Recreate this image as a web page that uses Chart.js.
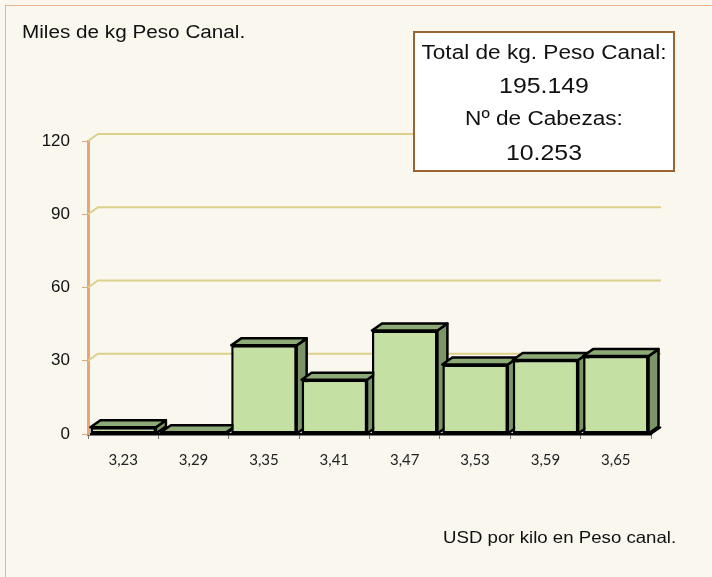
<!DOCTYPE html>
<html>
<head>
<meta charset="utf-8">
<script src="https://cdn.jsdelivr.net/npm/chart.js"></script>
<style>
  body { margin: 0; background: #f9f7ee; }
  #wrap { position: relative; width: 712px; height: 577px; overflow: hidden; background: #f9f7ee; }
  #frame { position: absolute; left: 5px; top: 5px; width: 800px; height: 700px; border: 1px solid #e6b58a; }
  canvas { position: absolute; left: 0; top: 0; }
  .txt { position: absolute; font-family: "Liberation Sans", Arial, sans-serif; color: #111; white-space: nowrap; }
  #title-y { left: 22px; top: 22px; font-size: 18px; transform: scaleX(1.15); transform-origin: left top; }
  #title-x { left: 443px; top: 528px; font-size: 16.5px; transform: scaleX(1.13); transform-origin: left top; }
  #infobox { position: absolute; left: 413px; top: 31px; width: 258px; height: 137px; background: #fff; border: 2px solid #9a6535; }
  #infobox .line { position: absolute; left: 0; width: 100%; text-align: center; transform: scaleX(1.13); font-family: "Liberation Sans", Arial, sans-serif; color: #111; white-space: nowrap; }
</style>
</head>
<body>
<div id="wrap">
  <div id="frame"></div>
  <canvas id="myChart" width="712" height="577"></canvas>
  <div class="txt" id="title-y"></div>
  <div class="txt" id="title-x"></div>
  <div id="infobox">
    <div class="line" id="box-l1" style="top:8px;font-size:20px"></div>
    <div class="line" id="box-l2" style="top:40px;font-size:22px"></div>
    <div class="line" id="box-l3" style="top:74px;font-size:20px"></div>
    <div class="line" id="box-l4" style="top:107px;font-size:22px"></div>
  </div>
</div>
<script>
// precio (USD/kg) y miles de kg en peso canal
const categories = ['3,23', '3,29', '3,35', '3,41', '3,47', '3,53', '3,59', '3,65'];
const pesoCanal = [2.8, 0.7, 36.3, 22.2, 42.4, 28.5, 30.3, 31.9];
const yTicks = [0, 30, 60, 90, 120];

const totalKg = '195.149';
const cabezas = '10.253';

document.getElementById('title-y').textContent = 'Miles de kg Peso Canal.';
document.getElementById('title-x').textContent = 'USD por kilo en Peso canal.';
document.getElementById('box-l1').textContent = 'Total de kg. Peso Canal:';
document.getElementById('box-l2').textContent = totalKg;
document.getElementById('box-l3').textContent = 'Nº de Cabezas:';
document.getElementById('box-l4').textContent = cabezas;

// depth of the fake 3d look
const dx = 10;
const dy = 7;

const bars3d = {
    id: 'bars3d',
    beforeDatasetsDraw(chart) {
        const ctx = chart.ctx;
        const area = chart.chartArea;
        const y = chart.scales.y;
        ctx.save();

        // back wall lines
        ctx.strokeStyle = '#ddd08a';
        ctx.lineWidth = 2;
        yTicks.slice(1).forEach(v => {
            const py = y.getPixelForValue(v);
            ctx.beginPath();
            ctx.moveTo(area.left, py);
            ctx.lineTo(area.left + dx, py - dy);
            ctx.lineTo(area.right + dx, py - dy);
            ctx.stroke();
        });

        // floor edge on the right
        ctx.strokeStyle = '#000';
        ctx.beginPath();
        ctx.moveTo(area.right, area.bottom);
        ctx.lineTo(area.right + dx, area.bottom - dy);
        ctx.stroke();

        // top and side faces, left to right
        ctx.lineWidth = 2.5;
        ctx.lineJoin = 'round';
        const meta = chart.getDatasetMeta(0);
        meta.data.forEach(bar => {
            const p = bar.getProps(['x', 'y', 'base', 'width'], true);
            const l = p.x - p.width / 2;
            const r = p.x + p.width / 2;

            ctx.beginPath();
            ctx.moveTo(r, p.y);
            ctx.lineTo(r + dx, p.y - dy);
            ctx.lineTo(r + dx, p.base - dy);
            ctx.lineTo(r, p.base);
            ctx.closePath();
            ctx.fillStyle = '#7b9567';
            ctx.fill();
            ctx.stroke();

            ctx.beginPath();
            ctx.moveTo(l, p.y);
            ctx.lineTo(l + dx, p.y - dy);
            ctx.lineTo(r + dx, p.y - dy);
            ctx.lineTo(r, p.y);
            ctx.closePath();
            ctx.fillStyle = '#8dab77';
            ctx.fill();
            ctx.stroke();
        });
        ctx.restore();
    }
};

const myChart = new Chart(document.getElementById('myChart'), {
    type: 'bar',
    data: {
        labels: categories,
        datasets: [{
            data: pesoCanal,
            backgroundColor: '#c4e0a2',
            borderColor: '#000',
            borderWidth: 2.5,
            borderSkipped: false,
            categoryPercentage: 1,
            barPercentage: 0.93
        }]
    },
    options: {
        responsive: false,
        devicePixelRatio: 1,
        animation: false,
        layout: { padding: { top: 141, right: 61, bottom: 0, left: 0 } },
        plugins: {
            legend: { display: false },
            tooltip: { enabled: false }
        },
        scales: {
            x: {
                afterFit: s => { s.height = 143; },
                grid: { display: true, drawOnChartArea: false, tickLength: 5, color: '#777', offset: true },
                border: { color: '#000', width: 2.5 },
                ticks: {
                    padding: 12,
                    color: '#222',
                    font: { family: 'Lato', size: 15 }
                }
            },
            y: {
                min: 0,
                max: 120,
                afterFit: s => { s.width = 88; },
                afterBuildTicks: s => { s.ticks = yTicks.map(v => ({ value: v })); },
                grid: { display: true, drawOnChartArea: false, tickLength: 6, color: '#e4a676' },
                border: { color: '#e4a676', width: 3 },
                ticks: {
                    padding: 12,
                    color: '#111',
                    font: { family: 'Liberation Sans', size: 17 }
                }
            }
        }
    },
    plugins: [bars3d]
});
</script>
</body>
</html>
